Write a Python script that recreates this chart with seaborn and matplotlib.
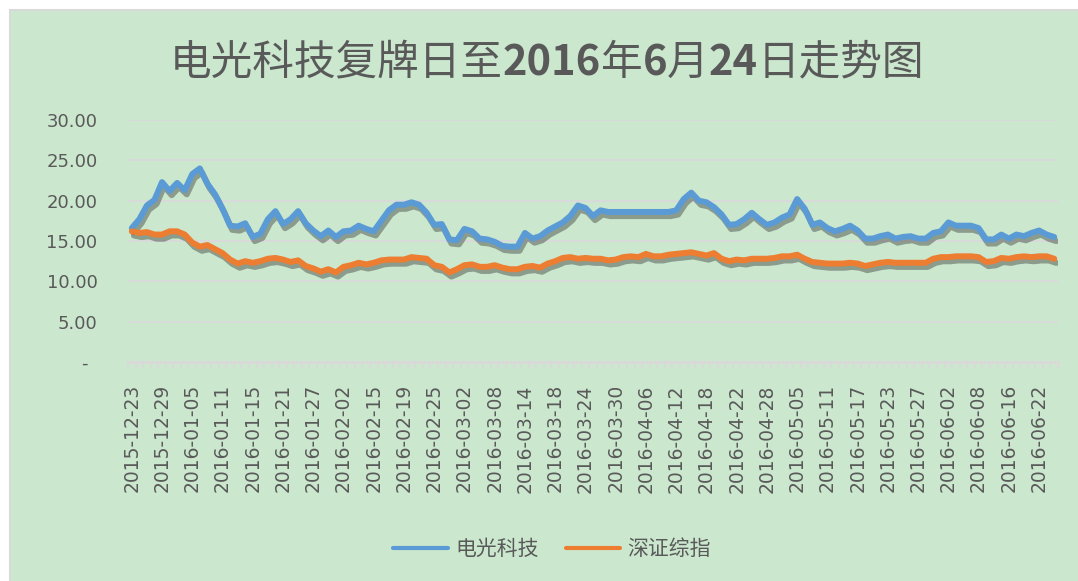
import numpy as np
import pandas as pd
import matplotlib
matplotlib.use("Agg")
import matplotlib.pyplot as plt
import matplotlib.patheffects as pe
from matplotlib.patches import Rectangle
import seaborn as sns

# ── 数据 ────────────────────────────────────────────────────────────────
START, END = "2015-12-23", "2016-06-24"
HOLIDAYS = ["2016-01-01", "2016-02-08", "2016-02-09", "2016-02-10", "2016-02-11",
            "2016-02-12", "2016-04-04", "2016-05-02", "2016-06-09", "2016-06-10"]

SERIES = ["电光科技", "深证综指"]

dgkj = [16.6, 17.7, 19.4, 20.1, 22.3, 21.2, 22.2, 21.3, 23.3, 24.0,
        22.1, 20.8, 19.0, 16.9, 16.8, 17.2, 15.5, 15.9, 17.7, 18.7,
        17.1, 17.7, 18.7, 17.2, 16.3, 15.6, 16.3, 15.5, 16.2, 16.3,
        16.9, 16.5, 16.2, 17.5, 18.8, 19.5, 19.5, 19.8, 19.5, 18.5,
        17.0, 17.1, 15.2, 15.1, 16.5, 16.2, 15.3, 15.2, 14.9, 14.4,
        14.3, 14.3, 16.0, 15.3, 15.6, 16.3, 16.8, 17.3, 18.1, 19.4,
        19.1, 18.1, 18.8, 18.6, 18.6, 18.6, 18.6, 18.6, 18.6, 18.6,
        18.6, 18.6, 18.8, 20.2, 21.0, 20.0, 19.8, 19.2, 18.3, 17.0,
        17.1, 17.7, 18.5, 17.7, 17.0, 17.3, 17.9, 18.3, 20.2, 19.0,
        17.0, 17.3, 16.6, 16.2, 16.5, 16.9, 16.3, 15.3, 15.3, 15.6,
        15.8, 15.3, 15.5, 15.6, 15.3, 15.3, 16.0, 16.2, 17.3, 16.9,
        16.9, 16.9, 16.6, 15.2, 15.2, 15.8, 15.3, 15.8, 15.6, 16.0,
        16.3, 15.8, 15.5]

szzz = [16.2, 16.0, 16.1, 15.8, 15.8, 16.2, 16.2, 15.8, 14.8, 14.3,
        14.5, 14.0, 13.5, 12.7, 12.2, 12.5, 12.3, 12.5, 12.8, 12.9,
        12.7, 12.4, 12.6, 11.9, 11.6, 11.2, 11.5, 11.1, 11.8, 12.0,
        12.3, 12.1, 12.3, 12.6, 12.7, 12.7, 12.7, 13.0, 12.9, 12.8,
        12.0, 11.8, 11.1, 11.5, 12.0, 12.1, 11.8, 11.8, 12.0, 11.7,
        11.5, 11.5, 11.8, 11.9, 11.7, 12.2, 12.5, 12.9, 13.0, 12.8,
        12.9, 12.8, 12.8, 12.6, 12.7, 13.0, 13.1, 13.0, 13.4, 13.1,
        13.1, 13.3, 13.4, 13.5, 13.6, 13.4, 13.2, 13.5, 12.8, 12.5,
        12.7, 12.6, 12.8, 12.8, 12.8, 12.9, 13.1, 13.1, 13.3, 12.8,
        12.4, 12.3, 12.2, 12.2, 12.2, 12.3, 12.2, 11.9, 12.1, 12.3,
        12.4, 12.3, 12.3, 12.3, 12.3, 12.3, 12.8, 13.0, 13.0, 13.1,
        13.1, 13.1, 13.0, 12.4, 12.5, 12.9, 12.8, 13.0, 13.1, 13.0,
        13.1, 13.1, 12.8]

Y_TICKS = [0, 5, 10, 15, 20, 25, 30]
TITLE_PARTS = [("电光科技复牌日至", "light"), ("2016", "bold"), ("年", "light"),
               ("6", "bold"), ("月", "light"), ("24", "bold"), ("日走势图", "light")]

# ── 样式 ────────────────────────────────────────────────────────────────
BG     = "#CBE8CF"
GRID   = "#D9D9D9"
TXT    = "#595959"
COLORS = ["#5B9BD5", "#ED7D31"]
CJK    = ["Noto Sans CJK SC", "DejaVu Sans"]

sns.set_style("white")
plt.rcParams["font.family"] = CJK

dates = pd.bdate_range(START, END)
dates = dates[~dates.isin(pd.to_datetime(HOLIDAYS))]
labels = dates.strftime("%Y-%m-%d")
pos = np.arange(len(dates))

df = pd.DataFrame({"pos": np.concatenate([pos, pos]),
                   "price": dgkj + szzz,
                   "name": [SERIES[0]] * len(pos) + [SERIES[1]] * len(pos)})

W, H = 1078, 581
fig = plt.figure(figsize=(W / 100, H / 100), dpi=100)
fig.patch.set_facecolor("white")
fig.patches.append(Rectangle((10 / W, -0.02), 1.0, (H - 10) / H + 0.02,
                             transform=fig.transFigure, facecolor=BG,
                             edgecolor=GRID, lw=1.5, zorder=-10))

ax = fig.add_axes([128 / W, 1 - 362 / H, 930 / W, 242 / H])
ax.set_facecolor("none")

sns.lineplot(data=df, x="pos", y="price", hue="name", palette=COLORS,
             lw=4.3, ax=ax, legend=True)
for ln in ax.lines:
    ln.set_path_effects([pe.SimpleLineShadow(offset=(1.5, -3), shadow_color="#2b2b2b",
                                             alpha=0.4), pe.Normal()])
    ln.set_solid_capstyle("round")
    ln.set_solid_joinstyle("round")

ax.set_xlim(-0.5, len(pos) - 0.5)
ax.set_ylim(0, 30)

ax.set_yticks(Y_TICKS)
ax.set_yticklabels(["-\u2002" if v == 0 else f"{v:.2f}" for v in Y_TICKS],
                   family="DejaVu Sans", fontsize=13, color=TXT)
ax.tick_params(axis="y", length=0, pad=22)
ax.grid(axis="y", color=GRID, lw=1.3)
ax.grid(axis="x", visible=False)

ax.set_xticks(pos[::4])
ax.set_xticklabels(labels[::4], rotation=90, family="DejaVu Sans",
                   fontsize=13.5, color=TXT)
ax.set_xticks(np.arange(-0.5, len(pos), 1), minor=True)
ax.tick_params(axis="x", which="major", length=0, pad=16)
ax.tick_params(axis="x", which="minor", length=4, width=1.3, color=GRID,
               direction="out", bottom=True)
ax.set_xlabel("")
ax.set_ylabel("")

for s in ["top", "right", "left"]:
    ax.spines[s].set_visible(False)
ax.spines["bottom"].set_color(GRID)
ax.spines["bottom"].set_linewidth(2)

handles, _ = ax.get_legend_handles_labels()
ax.legend(handles, SERIES, loc="center", bbox_to_anchor=(552 / W, 1 - 549 / H),
          bbox_transform=fig.transFigure, ncol=2, frameon=False,
          prop={"family": CJK, "size": 15}, labelcolor=TXT,
          handlelength=2.6, handletextpad=0.35, columnspacing=1.3)
for h in ax.get_legend().get_lines():
    h.set_linewidth(3)
    h.set_path_effects([])

# ── 标题（数字加粗，逐段排版）──────────────────────────────────────────
renderer = fig.canvas.get_renderer()
pieces = []
for txt, wt in TITLE_PARTS:
    t = fig.text(0, 1 - 63 / H, txt, fontsize=30, fontweight=wt,
                 color=TXT, va="center", ha="left", family=CJK)
    pieces.append(t)
widths = [p.get_window_extent(renderer).width / W for p in pieces]
x = 547 / W - sum(widths) / 2
for p, w in zip(pieces, widths):
    p.set_x(x)
    x += w

fig.savefig("out.png", dpi=100)
